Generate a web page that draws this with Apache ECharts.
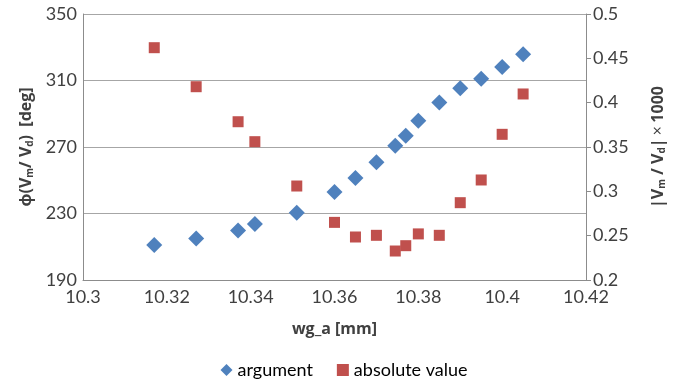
<!DOCTYPE html>
<html>
<head>
<meta charset="utf-8">
<script src="https://cdn.jsdelivr.net/npm/echarts@6/dist/echarts.min.js"></script>
<style>
  html, body { margin: 0; padding: 0; background: #fff; }
  #chart { width: 688px; height: 387px; }
</style>
</head>
<body>
<div id="chart"></div>
<script>
// waveguide position wg_a [mm]
const wgA = [10.317, 10.327, 10.337, 10.341, 10.351, 10.36, 10.365, 10.37,
             10.3745, 10.377, 10.38, 10.385, 10.39, 10.395, 10.4, 10.405];
// phase of Vm/Vd [deg]
const argument = [211, 215, 219.7, 223.7, 230.5, 243, 251.4, 260.8,
                  270.8, 276.8, 285.8, 296.7, 305.3, 311.1, 318.1, 325.8];
// |Vm/Vd| x 1000
const absoluteValue = [0.462, 0.418, 0.3785, 0.356, 0.306, 0.265, 0.2485, 0.2504,
                       0.2327, 0.2387, 0.252, 0.2504, 0.2872, 0.3128, 0.3643, 0.4098];
// left axis tick values
const phaseTicks = [190, 230, 270, 310, 350];

const FONT = 'Lato, Carlito, "Liberation Sans", sans-serif';
const BOLD = '"Open Sans", "Noto Sans", sans-serif';
const TXT = '#404040';
const AXIS = '#8c8c8c';

const chart = echarts.init(document.getElementById('chart'), null, { renderer: 'canvas' });

const nameRich = {
  b: { fontFamily: BOLD, fontWeight: 'bold', fontSize: 16, color: TXT },
  sub: { fontFamily: BOLD, fontWeight: 'bold', fontSize: 10, color: TXT, verticalAlign: 'bottom', padding: [7, 0, 0, 0] },
  n: { fontFamily: BOLD, fontWeight: 'normal', fontSize: 16, color: TXT }
};

chart.setOption({
  animation: false,
  grid: { left: 83, right: 102, top: 14, bottom: 107, containLabel: false },
  legend: {
    bottom: 3,
    left: 'center',
    itemWidth: 12,
    itemHeight: 12,
    itemGap: 24,
    textStyle: { fontFamily: FONT, fontSize: 18, color: '#000' },
    data: [
      { name: 'argument', icon: 'diamond' },
      { name: 'absolute value', icon: 'rect' }
    ]
  },
  xAxis: {
    type: 'value',
    min: 10.3,
    max: 10.42,
    interval: 0.02,
    name: 'wg_a [mm]',
    nameLocation: 'middle',
    nameGap: 41,
    nameTextStyle: { fontFamily: BOLD, fontWeight: 'bold', fontSize: 16, color: TXT },
    axisLine: { show: true, onZero: false, lineStyle: { color: AXIS, width: 1 } },
    axisTick: { show: false },
    splitLine: { show: false },
    axisLabel: { fontFamily: FONT, fontSize: 18, color: TXT, margin: 8 }
  },
  yAxis: [
    {
      type: 'value',
      position: 'left',
      min: 190,
      max: 350,
      name: '{b|ϕ(V}{sub|m}{b|/ V}{sub|d}{b|)  [deg]}',
      nameLocation: 'middle',
      nameRotate: 90,
      nameGap: 44,
      nameTextStyle: { rich: nameRich },
      axisLine: { show: true, lineStyle: { color: AXIS, width: 1 } },
      axisTick: { show: false, customValues: phaseTicks },
      axisLabel: { customValues: phaseTicks, fontFamily: FONT, fontSize: 18, color: TXT, margin: 6 },
      splitLine: { show: true, lineStyle: { color: '#a6a6a6', width: 1 } }
    },
    {
      type: 'value',
      position: 'right',
      min: 0.2,
      max: 0.5,
      interval: 0.05,
      name: '{b||V}{sub|m}{b| / V}{sub|d}{b||} {n|×} {b|1000}',
      nameLocation: 'middle',
      nameRotate: 90,
      nameGap: 64,
      nameTextStyle: { rich: nameRich },
      axisLine: { show: true, lineStyle: { color: AXIS, width: 1 } },
      axisTick: { show: true, inside: false, length: 5, lineStyle: { color: AXIS } },
      axisLabel: { fontFamily: FONT, fontSize: 18, color: TXT, margin: 7 },
      splitLine: { show: false }
    }
  ],
  series: [
    {
      name: 'argument',
      type: 'scatter',
      yAxisIndex: 0,
      symbol: 'diamond',
      symbolSize: 16,
      itemStyle: { color: '#4f81bd', opacity: 1 },
      data: wgA.map((x, i) => [x, argument[i]])
    },
    {
      name: 'absolute value',
      type: 'scatter',
      yAxisIndex: 1,
      symbol: 'rect',
      symbolSize: 11,
      itemStyle: { color: '#c0504d', opacity: 1 },
      data: wgA.map((x, i) => [x, absoluteValue[i]])
    }
  ]
});
</script>
</body>
</html>
